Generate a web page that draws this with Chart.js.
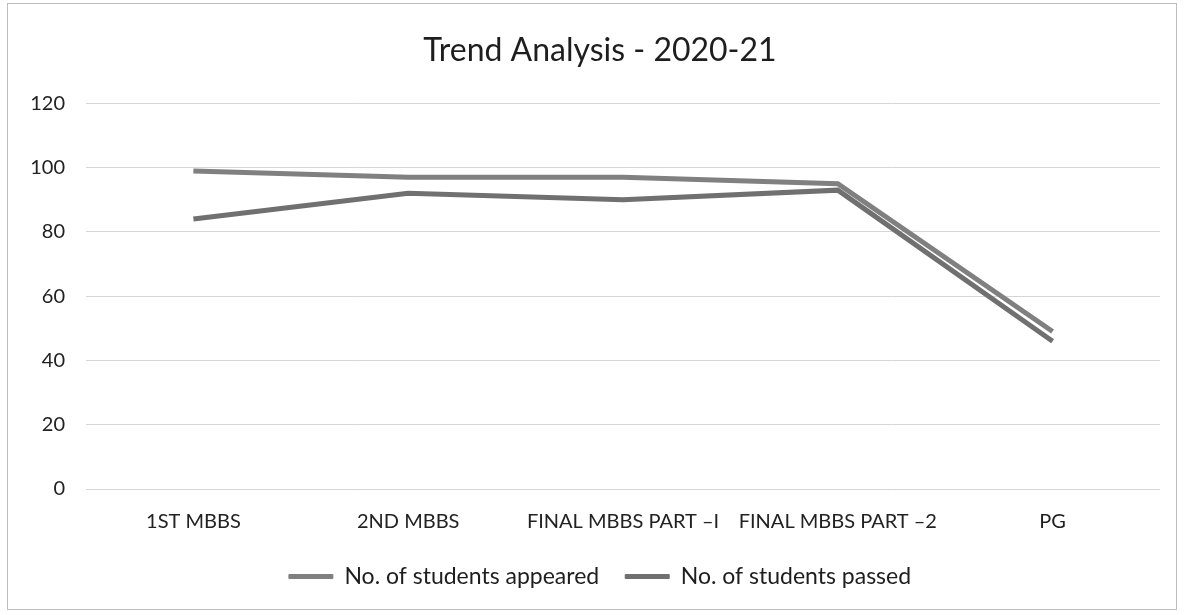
<!DOCTYPE html>
<html>
<head>
<meta charset="utf-8">
<script src="https://cdn.jsdelivr.net/npm/chart.js@4"></script>
<style>
  html, body { margin: 0; padding: 0; background: #fff; }
  #wrap { width: 1184px; height: 615px; position: relative; }
</style>
</head>
<body>
<div id="wrap"><canvas id="c" width="1184" height="615"></canvas></div>
<script>
const categories = ["1ST MBBS", "2ND MBBS", "FINAL MBBS PART \u2013I", "FINAL MBBS PART \u20132", "PG"];
const appeared = [99, 97, 97, 95, 49];
const passed = [84, 92, 90, 93, 46];
const yTicks = [0, 20, 40, 60, 80, 100, 120];

const FONT = "Lato, 'Open Sans', 'Liberation Sans', sans-serif";

const frame = {
  id: 'frame',
  beforeDraw(chart) {
    const ctx = chart.ctx;
    ctx.save();
    ctx.fillStyle = '#ffffff';
    ctx.fillRect(0, 0, chart.width, chart.height);
    ctx.strokeStyle = '#bdbdbd';
    ctx.lineWidth = 1;
    ctx.strokeRect(7.5, 3.5, 1169, 606);
    ctx.restore();
  }
};

new Chart(document.getElementById('c'), {
  type: 'line',
  data: {
    labels: categories,
    datasets: [
      {
        label: 'No. of students appeared',
        data: appeared,
        borderColor: '#808080',
        backgroundColor: '#808080',
        borderWidth: 5,
        pointRadius: 0,
        tension: 0,
        fill: false
      },
      {
        label: 'No. of students passed',
        data: passed,
        borderColor: '#707070',
        backgroundColor: '#707070',
        borderWidth: 5,
        pointRadius: 0,
        tension: 0,
        fill: false
      }
    ]
  },
  plugins: [frame],
  options: {
    responsive: false,
    animation: false,
    layout: { padding: { left: 16, right: 0, top: 0, bottom: 17 } },
    plugins: {
      title: {
        display: true,
        text: 'Trend Analysis - 2020-21',
        color: '#1e1e1e',
        font: { family: FONT, size: 32, weight: 'normal', lineHeight: 1.2 },
        padding: { top: 31, bottom: 34 }
      },
      legend: {
        position: 'bottom',
        labels: {
          color: '#1e1e1e',
          font: { family: FONT, size: 23 },
          boxWidth: 44,
          boxHeight: 4,
          padding: 26,
          generateLabels(chart) {
            const items = Chart.defaults.plugins.legend.labels.generateLabels(chart);
            items.forEach(it => { it.lineWidth = 1; });
            return items;
          }
        }
      },
      tooltip: { enabled: false }
    },
    scales: {
      x: {
        offset: true,
        grid: { display: false, drawTicks: false },
        border: { display: false },
        ticks: {
          color: '#222',
          font: { family: FONT, size: 20 },
          padding: 21,
          maxRotation: 0,
          autoSkip: false
        },
        afterFit(scale) { scale.height = 50; }
      },
      y: {
        min: 0,
        max: 120,
        afterBuildTicks(scale) { scale.ticks = yTicks.map(v => ({ value: v })); },
        grid: { color: '#d6d6d6', lineWidth: 1, drawTicks: false },
        border: { display: false },
        ticks: {
          color: '#222',
          font: { family: FONT, size: 20 },
          padding: 21
        },
        afterFit(scale) { scale.width = 70; }
      },
      yRight: {
        position: 'right',
        display: true,
        min: 0,
        max: 120,
        grid: { display: false, drawTicks: false },
        border: { display: false },
        ticks: { display: false },
        afterFit(scale) { scale.width = 24; }
      }
    }
  }
});
</script>
</body>
</html>
